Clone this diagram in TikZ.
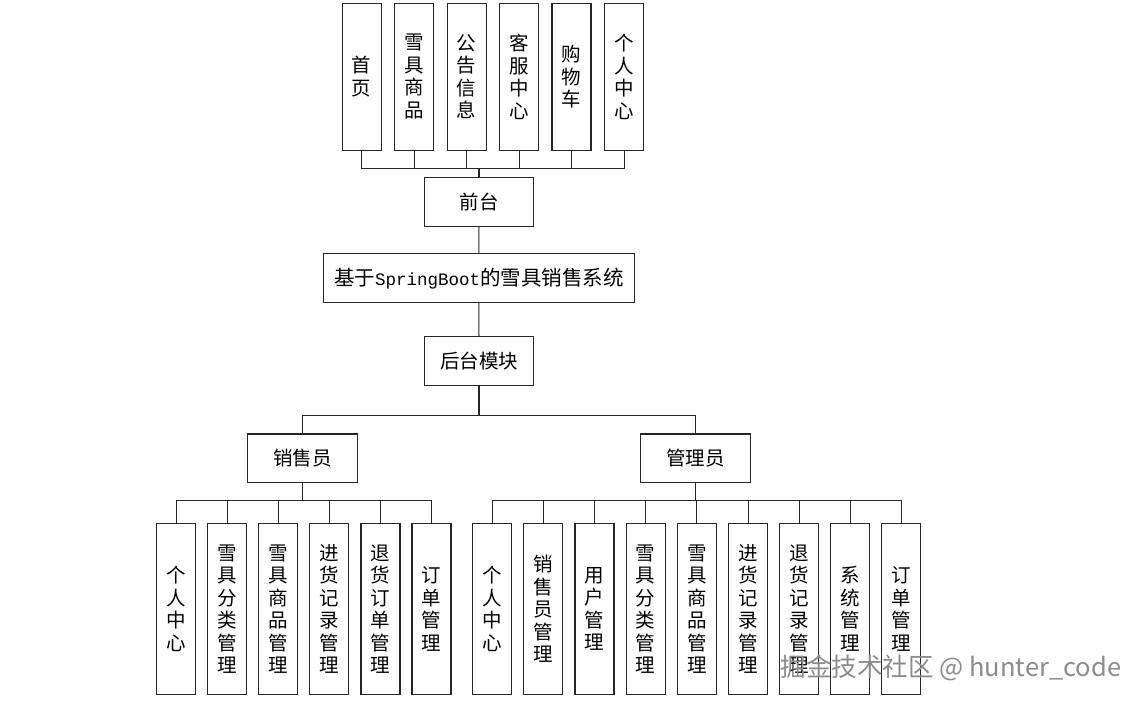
\documentclass[tikz,border=0pt]{standalone}
\usepackage{fontspec}
\newfontfamily\cjk{Noto Sans CJK SC}
\newfontfamily\monofam{Liberation Mono}
\begin{document}
\begin{tikzpicture}[x=1pt,y=-1pt,
  box/.style={draw=black!85,line width=1.1pt,fill=white,inner sep=0pt,align=center,
    font=\cjk\fontsize{19.5}{22.5}\selectfont},
  vbox/.style={box,minimum width=39pt,text width=39pt},
  hbox/.style={box,minimum width=109.5pt,minimum height=48.7pt},
  conn/.style={draw=black!85,line width=1pt}]
\useasboundingbox[fill=white] (0,0) rectangle (1141,703);
% top level
\node[vbox,minimum height=147pt] (t1) at (361.7,76.7) {首\\页};
\node[vbox,minimum height=147pt] (t2) at (414.0,76.7) {雪\\具\\商\\品};
\node[vbox,minimum height=147pt] (t3) at (466.7,76.7) {公\\告\\信\\息};
\node[vbox,minimum height=147pt] (t4) at (519.0,76.7) {客\\服\\中\\心};
\node[vbox,minimum height=147pt] (t5) at (571.5,76.7) {购\\物\\车};
\node[vbox,minimum height=147pt] (t6) at (624.0,76.7) {个\\人\\中\\心};
\node[hbox] (front) at (479,202) {前台};
\node[hbox,minimum width=311pt,font=\cjk\fontsize{20.5}{24}\selectfont] (main) at (478.8,278.3) {基于{\monofam\fontsize{17.5}{20}\selectfont SpringBoot}的雪具销售系统};
\node[hbox] (back) at (479,361) {后台模块};
\node[hbox] (sales) at (302.5,458.3) {销售员};
\node[hbox] (admin) at (695.5,458.3) {管理员};
% sales children
\node[vbox,minimum height=170.6pt] (s1) at (176.0,609) {个\\人\\中\\心};
\node[vbox,minimum height=170.6pt] (s2) at (227.0,609) {雪\\具\\分\\类\\管\\理};
\node[vbox,minimum height=170.6pt] (s3) at (278.0,609) {雪\\具\\商\\品\\管\\理};
\node[vbox,minimum height=170.6pt] (s4) at (329.0,609) {进\\货\\记\\录\\管\\理};
\node[vbox,minimum height=170.6pt] (s5) at (380.5,609) {退\\货\\订\\单\\管\\理};
\node[vbox,minimum height=170.6pt] (s6) at (431.5,609) {订\\单\\管\\理};
% admin children
\node[vbox,minimum height=170.6pt] (a1) at (492.3,609) {个\\人\\中\\心};
\node[vbox,minimum height=170.6pt] (a2) at (543.4,609) {销\\售\\员\\管\\理};
\node[vbox,minimum height=170.6pt] (a3) at (594.5,609) {用\\户\\管\\理};
\node[vbox,minimum height=170.6pt] (a4) at (645.7,609) {雪\\具\\分\\类\\管\\理};
\node[vbox,minimum height=170.6pt] (a5) at (696.8,609) {雪\\具\\商\\品\\管\\理};
\node[vbox,minimum height=170.6pt] (a6) at (748.0,609) {进\\货\\记\\录\\管\\理};
\node[vbox,minimum height=170.6pt] (a7) at (799.0,609) {退\\货\\记\\录\\管\\理};
\node[vbox,minimum height=170.6pt] (a8) at (850.0,609) {系\\统\\管\\理};
\node[vbox,minimum height=170.6pt] (a9) at (901.2,609) {订\\单\\管\\理};
% bus points
\coordinate (fbus) at (479,168.3);
\coordinate (bbus) at (479,415.7);
\coordinate (sbus) at (302.5,500.7);
\coordinate (abus) at (695.5,500.7);
% connectors
\foreach \i in {1,...,6} \draw[conn] (t\i.south) |- (fbus);
\draw[conn,line width=1.6pt] (front.north) -- (fbus);
\draw[conn] (front.south) -- (main.north);
\draw[conn] (main.south) -- (back.north);
\draw[conn,line width=1.6pt] (back.south) -- (bbus);
\draw[conn] (sales.north) |- (bbus);
\draw[conn] (admin.north) |- (bbus);
\draw[conn,line width=1.6pt] (sales.south) -- (sbus);
\draw[conn,line width=1.6pt] (admin.south) -- (abus);
\foreach \i in {1,...,6} \draw[conn] (s\i.north) |- (sbus);
\foreach \i in {1,...,9} \draw[conn] (a\i.north) |- (abus);
% watermark
\node[text=black!45,font=\cjk\fontsize{25.5}{28}\selectfont,inner sep=0pt] (wm) at (951,668) {掘金技术社区 @ hunter\_code};
\end{tikzpicture}
\end{document}
